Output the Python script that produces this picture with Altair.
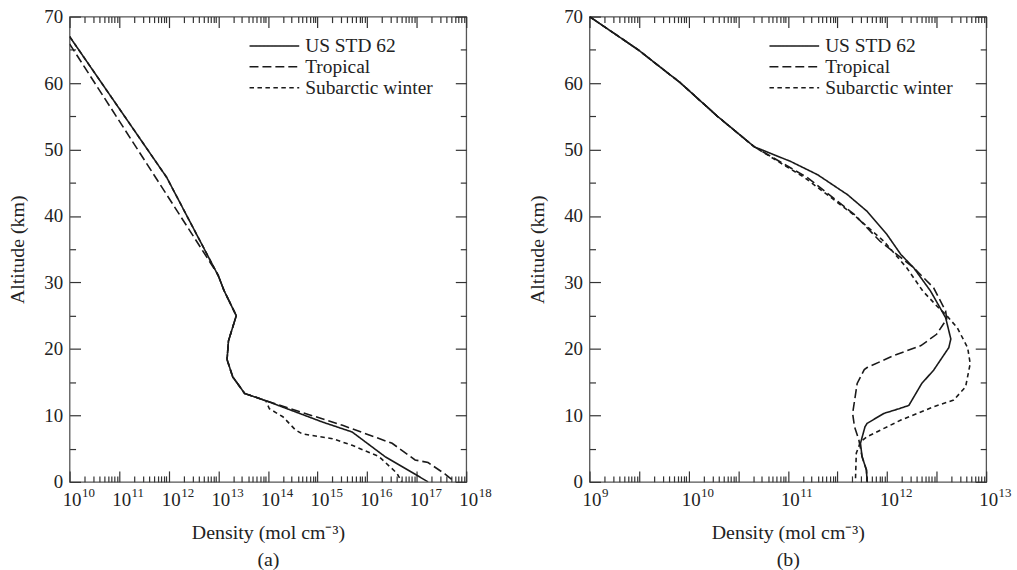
import math
import altair as alt
import pandas as pd

SERIES = ["US STD 62", "Tropical", "Subarctic winter"]
DASHES = [[1, 0], [9, 4], [4.5, 3.5]]
FONT = "Liberation Serif"
INK = "#1a1a1a"
FRAME = "#555555"
TEXT = "#222222"

# ---------- panel (a) ----------
a_us_alt = [67.0, 45.8, 31.0, 28.8, 25.0, 21.2, 18.4, 15.8, 13.3, 12.2, 9.0, 7.5, 3.8, 0.0]
a_us_den = [1.0e10, 9.1e11, 1.0e13, 1.3e13, 2.3e13, 1.6e13, 1.5e13, 1.95e13, 3.4e13, 9.1e13,
            1.26e15, 5.0e15, 2.3e16, 1.7e17]
a_tr_alt = [65.9, 43.2, 31.2, 28.8, 25.0, 21.2, 18.4, 15.8, 13.3, 12.2, 8.5, 5.8, 3.3, 2.9, 1.2, 0.0]
a_tr_den = [1.0e10, 9.1e11, 9.8e12, 1.3e13, 2.3e13, 1.6e13, 1.5e13, 1.95e13, 3.4e13, 9.1e13,
            3.2e15, 3.2e16, 9.3e16, 1.7e17, 3.7e17, 5.9e17]
a_sw_alt = [67.0, 45.8, 31.0, 28.8, 25.0, 21.2, 18.4, 15.8, 13.3, 12.2, 11.0, 9.8, 7.8, 7.2, 6.5,
            5.5, 3.8, 1.3, 0.0]
a_sw_den = [1.0e10, 9.1e11, 1.0e13, 1.3e13, 2.3e13, 1.6e13, 1.5e13, 1.95e13, 3.4e13, 9.1e13,
            1.07e14, 2.0e14, 3.6e14, 5.0e14, 2.0e15, 5.0e15, 1.74e16, 4.0e16, 5.0e16]

# ---------- panel (b) ----------
b_us_alt = [70.0, 65.0, 60.0, 55.0, 50.4, 48.2, 46.2, 43.2, 40.7, 37.2, 34.2, 32.2, 28.7, 24.7,
            21.5, 20.2, 16.8, 14.8, 11.5, 11.0, 10.3, 8.8, 8.3, 5.8, 3.8, 1.8, 0.0]
b_us_den = [1.0e9, 3.1e9, 8.3e9, 1.95e10, 4.6e10, 1.07e11, 2.0e11, 4.0e11, 6.3e11, 1.0e12,
            1.38e12, 1.86e12, 2.75e12, 3.9e12, 4.4e12, 4.2e12, 2.95e12, 2.24e12, 1.66e12,
            1.32e12, 9.3e11, 6.3e11, 6.0e11, 5.4e11, 5.6e11, 6.2e11, 6.3e11]
b_tr_alt = [70.0, 65.0, 60.0, 55.0, 50.4, 45.7, 40.2, 36.2, 32.2, 29.2, 25.7, 24.5, 22.2, 20.5,
            19.0, 17.2, 16.9, 14.8, 10.3, 8.3, 6.3, 3.8, 1.8, 0.0]
b_tr_den = [1.0e9, 3.1e9, 8.3e9, 1.95e10, 4.6e10, 1.6e11, 4.7e11, 8.5e11, 1.86e12, 2.95e12,
            3.9e12, 4.0e12, 3.16e12, 2.2e12, 1.17e12, 6.3e11, 5.9e11, 5.0e11, 4.5e11, 4.7e11,
            5.2e11, 5.6e11, 6.2e11, 6.3e11]
b_sw_alt = [70.0, 65.0, 60.0, 55.0, 50.4, 45.7, 40.2, 36.2, 32.2, 28.7, 26.5, 25.2, 23.2, 20.2,
            17.8, 14.3, 12.3, 11.3, 9.3, 6.8, 6.0, 4.3, 0.0]
b_sw_den = [1.0e9, 3.1e9, 8.3e9, 1.95e10, 4.6e10, 1.5e11, 4.6e11, 9.3e11, 1.58e12, 2.3e12,
            3.16e12, 3.9e12, 5.1e12, 6.5e12, 6.9e12, 6.2e12, 4.7e12, 2.95e12, 1.38e12, 6.3e11,
            5.4e11, 4.9e11, 4.8e11]

# ---------- axes ----------
Y_TICKS = [0, 5, 10, 15, 20, 25, 30, 35, 40, 45, 50, 55, 60, 65, 70]
A_EXPS = [10, 11, 12, 13, 14, 15, 16, 17, 18]
B_EXPS = [9, 10, 11, 12, 13]
BASE_LABEL = "10"
MANTISSAS = [1, 2, 3, 4, 5, 6, 7, 8, 9]
A_CYCLES = [10, 11, 12, 13, 14, 15, 16, 17]            # one tick cycle per decade
B_CYCLES = [9, 9.5, 10, 10.5, 11, 11.5, 12, 12.5]       # two tick cycles per decade


def cycle_ticks(cycles, width, end):
    vals = []
    for c in cycles:
        for m in MANTISSAS:
            vals.append(10 ** (c + width * math.log10(m)))
    vals.append(10.0 ** end)
    return vals


a_xticks = cycle_ticks(A_CYCLES, 1.0, 18)
b_xticks = cycle_ticks(B_CYCLES, 0.5, 13)
a_decades = [10.0 ** e for e in A_EXPS]
b_decades = [10.0 ** e for e in B_EXPS]

LOG = "(log(datum.value)/LN10)"
a_minor = f"abs({LOG} - round({LOG})) > 0.002"
b_minor = f"abs(2*{LOG} - round(2*{LOG})) > 0.002"
y_minor = "datum.value % 10 != 0"
BASE_EXPR = f"abs({LOG} - round({LOG})) < 0.002 ? '{BASE_LABEL}' : ''"
EXP_EXPR = f"format(round({LOG}), 'd')"

TICK = {"expr": "-11"}


def dash(test):
    return {"condition": {"test": test, "value": [6, 40]}, "value": [30, 0]}


def make_df(items):
    rows = []
    for name, alts, dens in items:
        for i, (h, d) in enumerate(zip(alts, dens)):
            rows.append({"series": name, "alt": h, "density": d, "order": i})
    return pd.DataFrame(rows)


def panel(df, xdom, xticks, decades, minor_test, caption):
    xscale = alt.Scale(type="log", domain=xdom, nice=False)
    yscale = alt.Scale(domain=[0, 70], nice=False, zero=False)
    common = dict(tickSize=TICK, tickColor="#333333", tickWidth=1.2, grid=False, domain=False)
    lines = alt.Chart(df).mark_line(strokeWidth=1.6, color=INK, clip=True).encode(
        x=alt.X("density:Q", scale=xscale,
                axis=alt.Axis(orient="bottom", values=xticks, labelExpr=BASE_EXPR,
                              tickDash=dash(minor_test), labelPadding=20, labelOffset=2,
                              labelFontSize=19, labelAngle=0, labelOverlap=False,
                              labelFlush=False,
                              title=["Density (mol cm⁻³)", caption], titleFontSize=20,
                              titleLineHeight=27, titlePadding=13, **common)),
        y=alt.Y("alt:Q", scale=yscale,
                axis=alt.Axis(orient="left", values=Y_TICKS,
                              labelExpr="datum.value % 10 == 0 ? datum.label : ''",
                              tickDash=dash(y_minor), labelPadding=18, labelFontSize=19,
                              title="Altitude (km)", titleFontSize=20, titlePadding=16,
                              **common)),
        strokeDash=alt.StrokeDash("series:N", scale=alt.Scale(domain=SERIES, range=DASHES),
                                  legend=alt.Legend(orient="none", legendX=180, legendY=19,
                                                    title=None, symbolType="stroke",
                                                    symbolSize=2500, symbolStrokeWidth=1.6,
                                                    symbolStrokeColor=INK, clipHeight=21,
                                                    labelFont=FONT, labelFontSize=19.5,
                                                    labelColor=TEXT, labelOffset=5,
                                                    rowPadding=0, padding=0)),
        order="order:Q",
    )
    box = alt.Chart(df).mark_line(opacity=0).encode(
        x=alt.X("density:Q", scale=xscale,
                axis=alt.Axis(orient="top", values=xticks, labels=False, title=None,
                              tickDash=dash(minor_test), **common)),
        y=alt.Y("alt:Q", scale=yscale,
                axis=alt.Axis(orient="right", values=Y_TICKS, labels=False, title=None,
                              tickDash=dash(y_minor), **common)),
        detail="series:N",
        order="order:Q",
    )
    sup = alt.Chart(df).mark_line(opacity=0).encode(
        x=alt.X("density:Q", scale=xscale,
                axis=alt.Axis(orient="bottom", values=decades, labelExpr=EXP_EXPR,
                              ticks=False, domain=False, grid=False, labelPadding=5,
                              labelOffset=12, labelAlign="left", labelFontSize=13,
                              labelOverlap=False, labelFlush=False, title=None)),
        y=alt.Y("alt:Q", scale=yscale, axis=None),
        detail="series:N",
        order="order:Q",
    )
    return alt.layer(lines, box, sup).resolve_axis(x="independent", y="independent").properties(
        width=399, height=468)


df_a = make_df([("Subarctic winter", a_sw_alt, a_sw_den), ("Tropical", a_tr_alt, a_tr_den),
                ("US STD 62", a_us_alt, a_us_den)])
df_b = make_df([("Subarctic winter", b_sw_alt, b_sw_den), ("Tropical", b_tr_alt, b_tr_den),
                ("US STD 62", b_us_alt, b_us_den)])

pa = panel(df_a, [1e10, 1e18], a_xticks, a_decades, a_minor, "(a)")
pb = panel(df_b, [1e9, 1e13], b_xticks, b_decades, b_minor, "(b)")

chart = alt.hconcat(pa, pb, spacing=35).resolve_scale(
    strokeDash="independent").resolve_legend(strokeDash="independent").properties(
    padding={"left": 7, "top": 5, "right": 5, "bottom": 5},
    background="white",
).configure_view(stroke=FRAME, strokeWidth=1.3).configure_axis(
    labelFont=FONT, titleFont=FONT, labelColor=TEXT, titleColor=TEXT,
    titleFontWeight="normal",
).configure_legend(labelFont=FONT)

chart.save("out.html", embed_options={"renderer": "svg", "actions": False})
